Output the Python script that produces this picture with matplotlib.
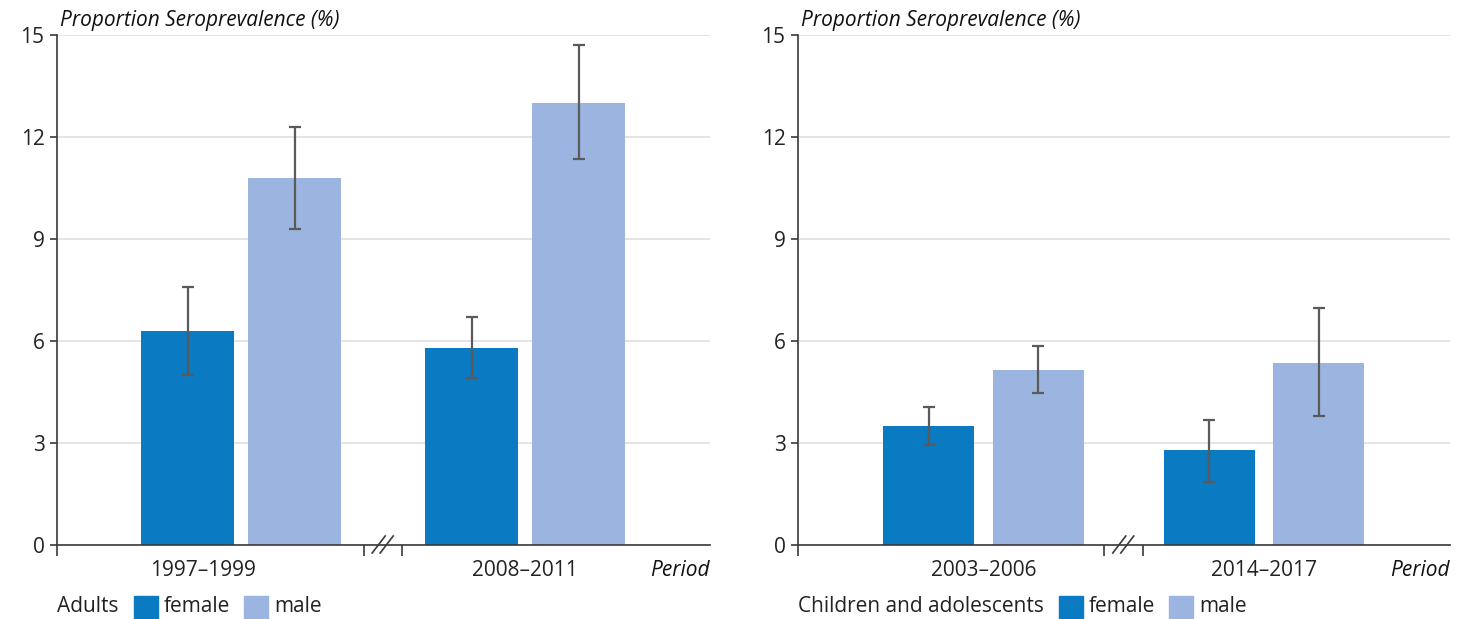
import numpy as np
import matplotlib
matplotlib.use('Agg')
import matplotlib.pyplot as plt
from matplotlib.lines import Line2D
from matplotlib.patches import Rectangle
from matplotlib.transforms import ScaledTranslation

plt.rcParams['font.family'] = ['Open Sans', 'DejaVu Sans']
plt.rcParams['font.size'] = 15

# ---- data ----
adult_periods = ['1997–1999', '2008–2011']
adult_female = [6.3, 5.8]
adult_female_lo = [5.0, 4.9]
adult_female_hi = [7.6, 6.7]
adult_male = [10.8, 13.0]
adult_male_lo = [9.3, 11.35]
adult_male_hi = [12.3, 14.7]

child_periods = ['2003–2006', '2014–2017']
child_female = [3.5, 2.8]
child_female_lo = [2.95, 1.85]
child_female_hi = [4.05, 3.68]
child_male = [5.15, 5.35]
child_male_lo = [4.47, 3.8]
child_male_hi = [5.85, 6.97]

y_ticks = [0, 3, 6, 9, 12, 15]

FEMALE = '#0a7ac2'
MALE = '#9bb5e0'
DARK = '#3a3a3a'
ERR = '#5a5a5a'
GRID = '#dcdcdc'

W, H = 1468, 619
fig = plt.figure(figsize=(W / 100, H / 100), dpi=100)


def px_box(x0, x1, ytop, ybot):
    return [x0 / W, (H - ybot) / H, (x1 - x0) / W, (ybot - ytop) / H]


def draw_panel(ax, periods, fem, fem_lo, fem_hi, mal, mal_lo, mal_hi,
               gap, width, xlim, label_shift):
    pos_f = np.arange(len(periods)) * gap
    pos_m = pos_f + 1.0

    ax.bar(pos_f, fem, width=width, color=FEMALE, zorder=2)
    ax.bar(pos_m, mal, width=width, color=MALE, zorder=2)
    for pos, v, lo, hi in ((pos_f, fem, fem_lo, fem_hi), (pos_m, mal, mal_lo, mal_hi)):
        v = np.array(v)
        err = [v - np.array(lo), np.array(hi) - v]
        ax.errorbar(pos, v, yerr=err, fmt='none', ecolor=ERR, elinewidth=1.6,
                    capsize=4, capthick=1.6, zorder=3)

    ax.set_xlim(*xlim)
    ax.set_ylim(0, 15)
    ax.set_yticks(y_ticks)
    ax.grid(axis='y', color=GRID, lw=1.1)
    ax.set_axisbelow(True)
    for s in ('top', 'right'):
        ax.spines[s].set_visible(False)
    for s in ('left', 'bottom'):
        ax.spines[s].set_color(DARK)
        ax.spines[s].set_linewidth(1.2)
    ax.tick_params(axis='y', length=5, width=1.2, color=DARK, pad=4, labelcolor='#222')

    # axis break between the two periods
    bx = (pos_m[0] + pos_f[1]) / 2
    ax.set_xticks([xlim[0], bx - 0.18, bx + 0.18])
    ax.set_xticklabels(['', '', ''])
    ax.tick_params(axis='x', length=8, width=1.2, color=DARK)
    tr = fig.dpi_scale_trans + ScaledTranslation(bx, 0, ax.transData)
    for dx in (-0.08, 0.0):
        ax.add_line(Line2D([dx - 0.03, dx + 0.10], [-0.08, 0.09], color=DARK,
                           lw=1.2, transform=tr, clip_on=False))

    for i, p in enumerate(periods):
        ax.annotate(p, ((pos_f[i] + pos_m[i]) / 2 + label_shift[i], 0),
                    xytext=(0, -18), textcoords='offset points',
                    ha='center', va='center', color='#222')
    ax.annotate('Period', (1.0, 0), xycoords=('axes fraction', 'data'),
                xytext=(0, -18), textcoords='offset points',
                ha='right', va='center', style='italic', color='#111')
    ax.text(0.004, 1.008, 'Proportion Seroprevalence (%)', transform=ax.transAxes,
            ha='left', va='bottom', style='italic', color='#111')


def draw_legend(x0, label):
    r = fig.canvas.get_renderer()
    y_txt = 12 / H
    t = fig.text(x0 / W, y_txt, label, ha='left', va='center', color='#222')
    x = t.get_window_extent(r).x1 + 15
    for name, col in (('female', FEMALE), ('male', MALE)):
        fig.patches.append(Rectangle((x / W, 0), 24 / W, 23 / H, color=col,
                                     transform=fig.transFigure, figure=fig))
        t = fig.text((x + 30) / W, y_txt, name, ha='left', va='center', color='#222')
        x = t.get_window_extent(r).x1 + 14


ax1 = fig.add_axes(px_box(57, 710, 35, 545))
ax2 = fig.add_axes(px_box(798, 1450, 35, 545))

draw_panel(ax1, adult_periods, adult_female, adult_female_lo, adult_female_hi,
           adult_male, adult_male_lo, adult_male_hi,
           gap=2.654, width=0.87, xlim=(-1.22, 4.88), label_shift=[-0.36, 0])
draw_panel(ax2, child_periods, child_female, child_female_lo, child_female_hi,
           child_male, child_male_lo, child_male_hi,
           gap=2.56, width=0.83, xlim=(-1.196, 4.76), label_shift=[0, 0])

draw_legend(57, 'Adults')
draw_legend(798, 'Children and adolescents')

fig.savefig('out.png', dpi=100)
